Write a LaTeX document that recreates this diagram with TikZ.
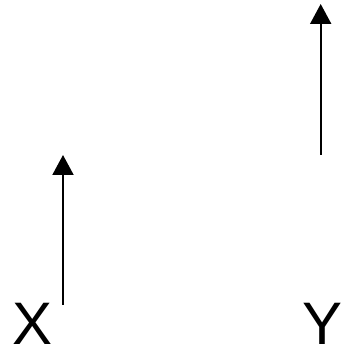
\documentclass[tikz,border=0pt]{standalone}
\usepackage{fontspec}
\setmainfont{Liberation Sans}
\usetikzlibrary{arrows.meta}
\begin{document}
\begin{tikzpicture}[x=1pt,y=1pt,
  lbl/.style={inner sep=0pt, anchor=base, font=\fontsize{60}{72}\selectfont},
  vec/.style={line width=2pt, -{Triangle[width=21pt,length=20pt]}}]
\useasboundingbox (0,0) rectangle (343,351);
\node[lbl] (X) at (32.5,6) {X};
\node[lbl] (Y) at (322.5,6) {Y};
\coordinate (a1) at (63,46);
\coordinate (a2) at (63,196);
\coordinate (b1) at (320.7,196);
\coordinate (b2) at (320.7,347);
\draw[vec] (a1) -- (a2);
\draw[vec] (b1) -- (b2);
\end{tikzpicture}
\end{document}
